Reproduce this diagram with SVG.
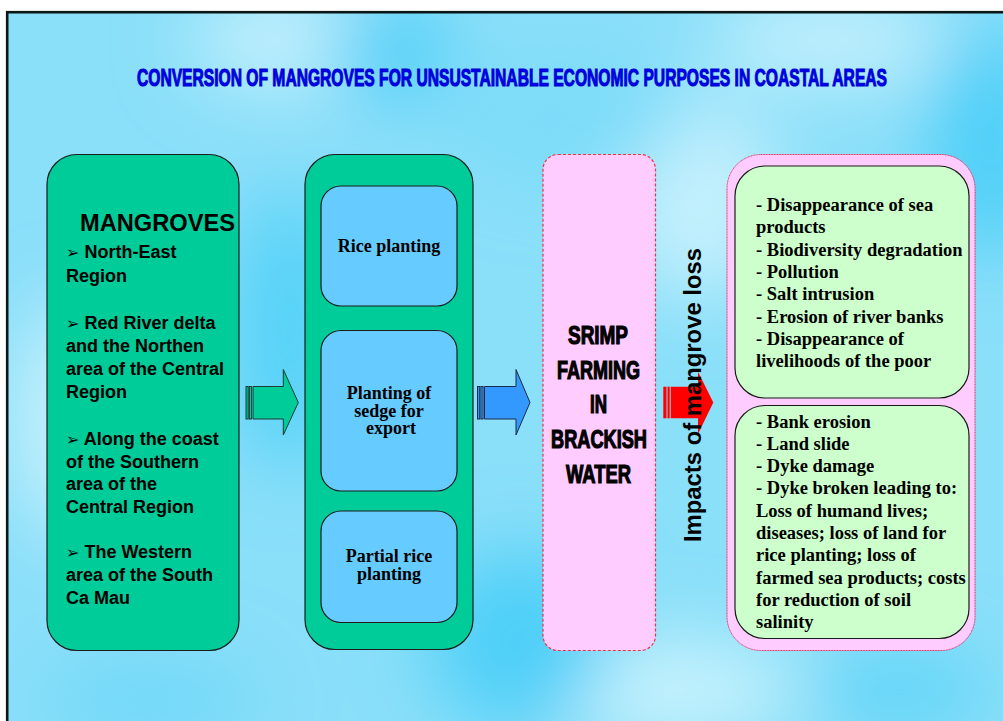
<svg xmlns="http://www.w3.org/2000/svg" width="1003" height="721" viewBox="0 0 1003 721">
  <defs>
    <filter id="soft" x="-20%" y="-20%" width="140%" height="140%">
      <feGaussianBlur stdDeviation="38"/>
    </filter>
    <clipPath id="page">
      <rect x="7" y="12" width="1000" height="712"/>
    </clipPath>
    <style>
      .box { stroke: #1b1b1b; stroke-width: 1.2; }
      .green { fill: #00CC99; }
      .sky { fill: #66CCFF; }
      .mint { fill: #CCFFCC; }
      .pink { fill: #FFCCFF; }
      .region { font-family: "Liberation Sans", Arial, sans-serif; font-weight: bold; font-size: 18px; fill: #000; }
      .bullet { font-family: "DejaVu Sans", sans-serif; font-size: 16px; font-weight: normal; }
      .heading { font-family: "Liberation Sans", Arial, sans-serif; font-weight: bold; font-size: 23px; fill: #000; }
      .vertical { font-family: "Liberation Sans", Arial, sans-serif; font-weight: bold; font-size: 24px; fill: #000; }
      .serif { font-family: "Liberation Serif", "Times New Roman", serif; font-weight: bold; fill: #000; }
      .use { font-size: 18px; text-anchor: middle; }
      .impact { font-size: 18.5px; }
      .narrow { font-family: "Liberation Sans Narrow", "Liberation Sans", Arial, sans-serif; font-weight: bold; }
      .title { font-size: 24.5px; fill: #0000EE; stroke: #0000CC; stroke-width: 1.1; }
      .shrimp { font-size: 25px; fill: #000; text-anchor: middle; stroke: #000; stroke-width: 1.2; }
    </style>
  </defs>

  <!-- page background with soft sky texture -->
  <rect x="0" y="0" width="1003" height="721" fill="#ffffff"/>
  <g clip-path="url(#page)">
    <rect x="7" y="12" width="1000" height="712" fill="#8ADFF9"/>
    <g filter="url(#soft)">
      <ellipse cx="300" cy="40" rx="110" ry="50" fill="#C4F0FD"/>
      <ellipse cx="830" cy="40" rx="120" ry="45" fill="#C4F0FD"/>
      <ellipse cx="390" cy="50" rx="60" ry="50" fill="#4DCFF8"/>
      <ellipse cx="990" cy="140" rx="60" ry="120" fill="#4DCFF8"/>
      <ellipse cx="80" cy="420" rx="70" ry="120" fill="#C4F0FD"/>
      <ellipse cx="660" cy="690" rx="140" ry="50" fill="#C9F3FD"/>
      <ellipse cx="520" cy="640" rx="90" ry="90" fill="#4DCFF8"/>
      <ellipse cx="290" cy="330" rx="60" ry="140" fill="#55D2F8"/>
      <ellipse cx="700" cy="200" rx="80" ry="100" fill="#C4F0FD"/>
      <ellipse cx="150" cy="700" rx="110" ry="40" fill="#6ED8F8"/>
      <ellipse cx="900" cy="690" rx="90" ry="40" fill="#5ED4F8"/>
      <ellipse cx="560" cy="120" rx="120" ry="60" fill="#7CDCF9"/>
    </g>
  </g>
  <rect x="7.2" y="12.2" width="1010" height="720" fill="none" stroke="#0b1616" stroke-width="2.6"/>

  <!-- title -->
  <text class="narrow title" x="137" y="86" textLength="750" lengthAdjust="spacingAndGlyphs">CONVERSION OF MANGROVES FOR UNSUSTAINABLE ECONOMIC PURPOSES IN COASTAL AREAS</text>

  <!-- mangrove regions -->
  <g id="mangroves">
    <rect class="box green" x="47" y="154.5" width="192" height="496" rx="30"/>
    <text class="heading" x="80" y="231" textLength="155" lengthAdjust="spacingAndGlyphs">MANGROVES</text>
    <g class="region">
      <text x="66" y="258"><tspan class="bullet">➢</tspan> North-East</text>
      <text x="66" y="281.5">Region</text>
      <text x="66" y="328.5"><tspan class="bullet">➢</tspan> Red River delta</text>
      <text x="66" y="352">and the Northen</text>
      <text x="66" y="375">area of the Central</text>
      <text x="66" y="398">Region</text>
      <text x="66" y="445"><tspan class="bullet">➢</tspan> Along the coast</text>
      <text x="66" y="467.5">of the Southern</text>
      <text x="66" y="490">area of the</text>
      <text x="66" y="512.5">Central Region</text>
      <text x="66" y="558"><tspan class="bullet">➢</tspan> The Western</text>
      <text x="66" y="581">area of the South</text>
      <text x="66" y="604">Ca Mau</text>
    </g>
  </g>

  <!-- land uses replacing mangroves -->
  <g id="land-uses">
    <rect class="box green" x="305" y="154.5" width="168" height="495" rx="30"/>
  </g>
  <g id="rice-planting">
    <rect class="box sky" x="321" y="186" width="136" height="120" rx="20"/>
    <text class="serif use" x="389" y="252">Rice planting</text>
  </g>
  <g id="sedge-planting">
    <rect class="box sky" x="321" y="330.5" width="136" height="160.5" rx="20"/>
    <text class="serif use" x="389" y="399">Planting of</text>
    <text class="serif use" x="389" y="416.5">sedge for</text>
    <text class="serif use" x="391" y="434">export</text>
  </g>
  <g id="partial-rice">
    <rect class="box sky" x="321" y="511" width="136" height="111.5" rx="20"/>
    <text class="serif use" x="389" y="562">Partial rice</text>
    <text class="serif use" x="389" y="580">planting</text>
  </g>

  <!-- shrimp farming -->
  <g id="shrimp-farming">
    <rect class="pink" x="543" y="154.5" width="112.5" height="496" rx="15" stroke="#EE3344" stroke-width="1.2" stroke-dasharray="3 2"/>
    <g class="narrow shrimp">
      <text x="598" y="344" textLength="60" lengthAdjust="spacingAndGlyphs">SRIMP</text>
      <text x="598.5" y="379" textLength="83" lengthAdjust="spacingAndGlyphs">FARMING</text>
      <text x="598.5" y="413" textLength="17" lengthAdjust="spacingAndGlyphs">IN</text>
      <text x="599" y="447.5" textLength="96" lengthAdjust="spacingAndGlyphs">BRACKISH</text>
      <text x="598.5" y="482.5" textLength="65" lengthAdjust="spacingAndGlyphs">WATER</text>
    </g>
  </g>

  <!-- impacts -->
  <g id="impacts">
    <rect class="pink" x="727" y="154.5" width="248" height="496" rx="34" stroke="#EE2255" stroke-width="1" stroke-dasharray="1 0.6"/>
  </g>
  <g id="ecological-impacts">
    <rect class="box mint" x="735" y="166" width="234" height="232" rx="30"/>
    <g class="serif impact">
      <text x="756" y="211">- Disappearance of sea</text>
      <text x="756" y="233.3">products</text>
      <text x="756" y="255.6">- Biodiversity degradation</text>
      <text x="756" y="277.9">- Pollution</text>
      <text x="756" y="300.2">- Salt intrusion</text>
      <text x="756" y="322.5">- Erosion of river banks</text>
      <text x="756" y="344.8">- Disappearance of</text>
      <text x="756" y="367.1">livelihoods of the poor</text>
    </g>
  </g>
  <g id="physical-impacts">
    <rect class="box mint" x="735" y="405.5" width="234" height="233" rx="30"/>
    <g class="serif impact">
      <text x="756" y="427.5">- Bank erosion</text>
      <text x="756" y="449.8">- Land slide</text>
      <text x="756" y="472.1">- Dyke damage</text>
      <text x="756" y="494.4">- Dyke broken leading to:</text>
      <text x="756" y="516.7">Loss of humand lives;</text>
      <text x="756" y="539">diseases; loss of land for</text>
      <text x="756" y="561.3">rice planting; loss of</text>
      <text x="756" y="583.6">farmed sea products; costs</text>
      <text x="756" y="605.9">for reduction of soil</text>
      <text x="756" y="628.2">salinity</text>
    </g>
  </g>

  <!-- striped block arrows between stages -->
  <g id="connectors">
    <g stroke="#1b3b33" stroke-width="1">
      <rect x="246" y="386.5" width="2.2" height="32.5" fill="#00CC99"/>
      <rect x="249.4" y="386.5" width="2.2" height="32.5" fill="#00CC99"/>
      <polygon points="253,386.5 283.3,386.5 283.3,369.5 298.3,402.5 283.3,435 283.3,419 253,419" fill="#00CC99"/>
    </g>
    <g stroke="#1b2b4b" stroke-width="1">
      <rect x="477.5" y="386.5" width="2.2" height="32.5" fill="#3399FF"/>
      <rect x="480.9" y="386.5" width="2.2" height="32.5" fill="#3399FF"/>
      <polygon points="484.5,386.5 516,386.5 516,369.5 530,402.5 516,435 516,419 484.5,419" fill="#3399FF"/>
    </g>
    <g fill="#FF0000">
      <rect x="663.3" y="386.7" width="3.2" height="31.6"/>
      <rect x="667.5" y="386.7" width="2.2" height="31.6"/>
      <polygon points="670.7,386.7 698,386.7 698,371.7 713.3,402.5 698,434 698,418.3 670.7,418.3"/>
    </g>
    <text class="vertical" transform="translate(700.5 542) rotate(-90)" textLength="294" lengthAdjust="spacingAndGlyphs">Impacts of mangrove loss</text>
  </g>
</svg>
